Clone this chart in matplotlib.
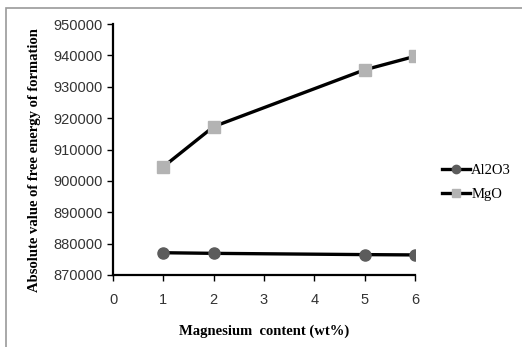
import matplotlib
matplotlib.use("Agg")
import matplotlib.pyplot as plt
from matplotlib.patches import Rectangle

# ============================================================
# DATA
# ============================================================
mg_content = [1, 2, 5, 6]
al2o3 = [877100, 876900, 876500, 876400]
mgo = [904500, 917300, 935400, 939700]

x_ticks = [0, 1, 2, 3, 4, 5, 6]
y_ticks = [870000, 880000, 890000, 900000, 910000, 920000, 930000, 940000, 950000]

# ============================================================
# PLOT
# ============================================================
fig = plt.figure(figsize=(5.22, 3.47), dpi=100)

# outer frame of the pasted chart
fig.patches.append(Rectangle((6 / 522, -0.1), 1.2, 1 - 8 / 347 + 0.1,
                             transform=fig.transFigure, fill=False,
                             edgecolor="#9a9a9a", linewidth=1.2))

ax = fig.add_axes([113 / 522, 1 - 275 / 347, (415 - 113) / 522, (275 - 24) / 347])

ax.plot(mg_content, al2o3, color="black", linewidth=2.4, marker="o",
        markersize=8, markerfacecolor="#5c5c5c", markeredgecolor="#5c5c5c",
        label="Al2O3")
ax.plot(mg_content, mgo, color="black", linewidth=2.4, marker="s",
        markersize=8, markerfacecolor="#b3b3b3", markeredgecolor="#b3b3b3",
        label="MgO")

ax.set_xlim(0, 6)
ax.set_ylim(870000, 950000)
ax.set_xticks(x_ticks)
ax.set_yticks(y_ticks)

ax.spines["top"].set_visible(False)
ax.spines["right"].set_visible(False)
ax.spines["left"].set_linewidth(1.6)
ax.spines["bottom"].set_linewidth(1.6)
ax.tick_params(axis="both", labelsize=10.5, length=4, width=1, colors="black")
for lbl in ax.get_xticklabels() + ax.get_yticklabels():
    lbl.set_family("Liberation Sans")
    lbl.set_color("#333333")
ax.tick_params(axis="x", pad=9)

ax.set_xlabel("Magnesium  content (wt%)", family="Liberation Serif",
              fontweight="bold", fontsize=10.5)
ax.xaxis.set_label_coords(0.5, -(325 - 275) / 251)
ax.set_ylabel("Absolute value of free energy of formation", family="Liberation Serif",
              fontweight="bold", fontsize=10.5)
ax.yaxis.set_label_coords(-(113 - 41) / 302, (275 - 160) / 251)

leg = fig.legend(loc="center left", bbox_to_anchor=(442 / 522, 1 - 182.5 / 347),
                 frameon=False, borderpad=0, borderaxespad=0,
                 prop={"family": "Liberation Serif", "size": 10.5},
                 handlelength=1.9, handletextpad=0.1, labelspacing=0.75,
                 markerscale=0.75)

fig.savefig("out.png", dpi=100)
